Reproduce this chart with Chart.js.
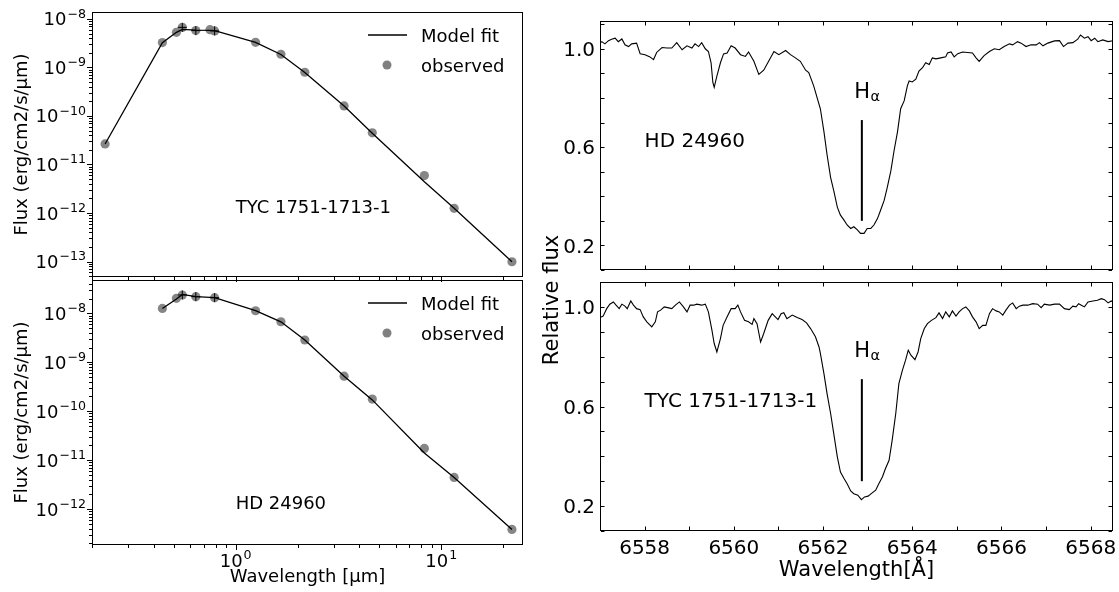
<!DOCTYPE html>
<html><head><meta charset="utf-8">
<script src="https://cdn.jsdelivr.net/npm/chart.js@4.4.1/dist/chart.umd.min.js"></script>
<style>
html,body{margin:0;padding:0;background:#fff;}
#wrap{position:relative;width:1119px;height:592px;overflow:hidden;background:#fff;}
canvas{position:absolute;left:0;top:0;}
</style></head><body>
<div id="wrap">
<canvas id="cTL" width="1119" height="592"></canvas>
<canvas id="cBL" width="1119" height="592"></canvas>
<canvas id="cTR" width="1119" height="592"></canvas>
<canvas id="cBR" width="1119" height="592"></canvas>
</div>
<script>
// ---------- SED data (wavelength in micron, flux in erg/cm2/s/micron) ----------
const sedWavelengthTyc = [0.2316, 0.44, 0.515, 0.55, 0.64, 0.75, 0.79, 1.25, 1.66, 2.17, 3.37, 4.62, 8.28, 11.56, 22.09];
const sedObservedTyc   = [2.65e-11, 3.25e-9, 5.3e-9, 6.7e-9, 5.75e-9, 6.0e-9, 5.66e-9, 3.3e-9, 1.87e-9, 7.96e-10, 1.61e-10, 4.5e-11, 5.9e-12, 1.25e-12, 9.9e-14];
const sedModelTyc      = [2.65e-11, 3.25e-9, 5.3e-9, 6.1e-9, 5.9e-9, 5.8e-9, 5.75e-9, 3.3e-9, 1.85e-9, 7.9e-10, 1.6e-10, 4.4e-11, 4.4e-12, 1.25e-12, 9.9e-14];
const errWavelengthTyc = [0.55, 0.64, 0.79];
const errFluxTyc       = [6.7e-9, 5.75e-9, 5.66e-9];

const sedWavelengthHd = [0.44, 0.515, 0.55, 0.64, 0.79, 1.25, 1.66, 2.17, 3.37, 4.62, 8.28, 11.56, 22.09];
const sedObservedHd   = [1.26e-8, 2.03e-8, 2.37e-8, 2.19e-8, 2.09e-8, 1.13e-8, 6.73e-9, 2.85e-9, 5.2e-10, 1.77e-10, 1.73e-11, 4.42e-12, 3.83e-13];
const sedModelHd      = [1.26e-8, 1.96e-8, 2.44e-8, 2.19e-8, 2.09e-8, 1.13e-8, 6.7e-9, 2.85e-9, 5.2e-10, 1.7e-10, 1.4e-11, 4.42e-12, 3.83e-13];
const errWavelengthHd = [0.55, 0.64, 0.79];
const errFluxHd       = [2.37e-8, 2.19e-8, 2.09e-8];

const sedXTickExponents    = [0, 1];
const sedYTickExponentsTyc = [-8, -9, -10, -11, -12, -13];
const sedYTickExponentsHd  = [-8, -9, -10, -11, -12];

// ---------- Spectra (wavelength in Angstrom, relative flux) ----------
const specWavelengthHd = [6557.00,6557.04,6557.11,6557.19,6557.26,6557.34,6557.41,6557.49,6557.56,6557.64,6557.71,6557.82,6557.90,6558.01,6558.12,6558.20,6558.27,6558.39,6558.50,6558.61,6558.72,6558.84,6558.95,6559.06,6559.13,6559.21,6559.28,6559.36,6559.43,6559.49,6559.53,6559.56,6559.62,6559.70,6559.77,6559.85,6559.94,6560.03,6560.15,6560.26,6560.33,6560.45,6560.56,6560.67,6560.78,6560.90,6561.01,6561.16,6561.27,6561.38,6561.49,6561.61,6561.68,6561.79,
6561.94,6562.02,6562.09,6562.17,6562.24,6562.32,6562.39,6562.47,6562.54,6562.62,6562.69,6562.77,6562.84,6562.92,6562.99,6563.07,6563.14,6563.22,6563.29,6563.37,6563.44,6563.52,6563.59,6563.67,6563.74,6563.82,6563.89,6563.93,6564.00,6564.08,6564.15,6564.23,6564.30,6564.38,6564.45,6564.53,6564.64,6564.75,6564.79,6564.87,6564.94,6565.02,6565.13,6565.24,6565.35,6565.43,6565.50,6565.61,6565.73,6565.84,6565.95,6566.06,6566.18,6566.25,6566.36,6566.44,6566.55,6566.66,6566.78,6566.85,6566.93,6567.04,6567.19,6567.30,6567.39,6567.49,6567.60,6567.71,6567.77,6567.86,6567.94,6568.01,6568.09,6568.16,6568.27,6568.39,6568.50];
const specFluxHd = [1.023,1.029,1.020,1.033,1.039,1.043,1.029,1.040,1.016,1.009,1.020,1.023,0.980,0.976,0.967,0.956,0.985,1.005,1.003,1.003,1.025,0.996,1.012,1.003,1.020,1.009,1.025,1.000,0.989,0.943,0.863,0.843,0.889,0.943,0.979,0.983,1.012,1.003,0.976,0.969,0.987,0.949,0.896,0.913,0.949,0.989,0.976,0.993,0.976,0.963,0.949,0.913,0.903,0.849,
0.756,0.663,0.569,0.476,0.423,0.356,0.323,0.303,0.283,0.269,0.276,0.263,0.249,0.249,0.269,0.269,0.283,0.309,0.343,0.383,0.436,0.503,0.583,0.663,0.756,0.789,0.849,0.869,0.865,0.876,0.909,0.923,0.943,0.936,0.963,0.959,0.963,0.967,0.983,0.987,0.967,0.980,0.987,0.985,0.983,0.963,0.949,0.972,0.989,1.000,0.996,1.009,1.020,1.016,1.029,1.023,1.009,1.016,1.016,1.025,1.012,1.023,1.032,1.033,1.009,1.023,1.025,1.039,1.056,1.043,1.049,1.033,1.043,1.029,1.036,1.029,1.033];

const specWavelengthTyc = [6557.00,6557.07,6557.15,6557.22,6557.30,6557.36,6557.43,6557.49,6557.56,6557.61,6557.69,6557.75,6557.82,6557.90,6557.97,6558.05,6558.16,6558.24,6558.29,6558.36,6558.44,6558.54,6558.61,6558.69,6558.78,6558.87,6558.95,6559.02,6559.10,6559.17,6559.28,6559.36,6559.43,6559.51,6559.56,6559.62,6559.70,6559.76,6559.85,6559.94,6560.03,6560.09,6560.15,6560.24,6560.33,6560.41,6560.45,6560.52,6560.60,6560.67,6560.77,6560.86,6560.93,6560.99,6561.06,6561.12,6561.19,6561.31,6561.42,6561.53,6561.63,6561.72,6561.83,6561.91,
6561.94,6562.02,6562.09,6562.17,6562.24,6562.32,6562.39,6562.47,6562.54,6562.62,6562.69,6562.78,6562.86,6562.93,6563.01,6563.08,6563.18,6563.25,6563.33,6563.40,6563.48,6563.55,6563.63,6563.70,6563.78,6563.85,6563.91,6563.97,6564.06,6564.13,6564.19,6564.27,6564.34,6564.43,6564.53,6564.60,6564.68,6564.75,6564.83,6564.90,6564.98,6565.05,6565.13,6565.20,6565.28,6565.35,6565.43,6565.50,6565.58,6565.65,6565.73,6565.80,6565.88,6565.95,6566.03,6566.10,6566.18,6566.25,6566.33,6566.40,6566.48,6566.59,6566.70,6566.81,6566.89,6566.96,6567.08,6567.19,6567.30,6567.41,6567.52,6567.60,6567.67,6567.73,6567.79,6567.86,6567.94,6568.05,6568.15,6568.24,6568.31,6568.39,6568.46,6568.54];
const specFluxTyc = [0.957,0.963,0.993,1.011,1.020,1.007,0.993,1.011,1.003,0.993,1.024,1.007,0.993,0.989,0.960,0.940,0.920,0.940,0.980,0.987,1.000,0.996,0.993,1.007,1.020,1.000,0.980,1.007,1.007,1.011,1.007,1.011,0.980,0.906,0.853,0.819,0.873,0.926,0.960,0.993,0.993,1.007,0.980,0.946,0.940,0.930,0.953,0.933,0.859,0.893,0.946,0.973,0.960,0.949,0.973,0.977,0.953,0.967,0.957,0.949,0.936,0.913,0.880,0.839,
0.813,0.732,0.652,0.572,0.491,0.398,0.337,0.311,0.290,0.261,0.250,0.244,0.226,0.237,0.240,0.250,0.264,0.290,0.317,0.351,0.384,0.465,0.572,0.692,0.746,0.786,0.826,0.806,0.788,0.819,0.873,0.913,0.933,0.946,0.957,0.976,0.953,0.980,0.960,0.984,0.963,0.980,0.993,1.000,0.984,0.960,0.940,0.913,0.926,0.926,0.973,0.993,0.984,0.980,0.967,0.987,1.007,1.016,0.993,1.003,1.007,1.007,1.013,1.011,0.997,1.011,1.007,1.011,1.011,0.993,0.989,1.003,1.000,1.013,1.007,1.000,1.020,1.024,1.027,1.033,1.029,1.016,1.024,1.013];

const halphaWavelength = [6562.87, 6562.87];
const halphaFlux       = [0.30, 0.71];

const specXTicks      = [6557,6558,6559,6560,6561,6562,6563,6564,6565,6566,6567,6568];
const specXTickLabels = [6558, 6560, 6562, 6564, 6566, 6568];
const specYTicks      = [0.1,0.2,0.3,0.4,0.5,0.6,0.7,0.8,0.9,1.0,1.1];
const specYTickLabels = [0.2, 0.6, 1.0];

// ---------- helpers ----------
const FONT = '"DejaVu Sans", sans-serif';
const W = 1119, H = 592;
function pts(xs, ys) { return xs.map((x, i) => ({x: x, y: ys[i]})); }
function line(ctx, x1, y1, x2, y2) { ctx.beginPath(); ctx.moveTo(x1, y1); ctx.lineTo(x2, y2); ctx.stroke(); }
function pow10(ctx, exp, x, yBase, align, size) {
  const sup = (exp < 0 ? '\u2212' : '') + Math.abs(exp);
  const ss = size * 0.7;
  ctx.font = size + 'px ' + FONT; const wb = ctx.measureText('10').width;
  ctx.font = ss + 'px ' + FONT; const ws = ctx.measureText(sup).width;
  const tot = wb + ws + 1;
  const x0 = align === 'right' ? x - tot : (align === 'center' ? x - tot / 2 : x);
  ctx.textAlign = 'left'; ctx.textBaseline = 'alphabetic';
  ctx.font = size + 'px ' + FONT; ctx.fillText('10', x0, yBase);
  ctx.font = ss + 'px ' + FONT; ctx.fillText(sup, x0 + wb + 1, yBase - size * 0.42);
}
function logTickList(min, max) {
  const out = [];
  for (let e = Math.floor(Math.log10(min)); e <= Math.ceil(Math.log10(max)); e++) {
    for (let m = 1; m <= 9; m++) {
      const v = m * Math.pow(10, e);
      if (v >= min && v <= max) out.push({v: v, major: m === 1});
    }
  }
  return out;
}
function frame(ctx, a) {
  ctx.strokeStyle = '#000'; ctx.lineWidth = 1;
  ctx.strokeRect(a.left + 0.5, a.top + 0.5, a.right - a.left - 1, a.bottom - a.top - 1);
}

// ---------- SED panel ----------
function makeSed(id, area, wl, obs, model, ewl, eflux, yMin, yMax, cfg) {
  const decor = {
    id: 'decor' + id,
    afterDatasetsDraw(chart) {
      const ctx = chart.ctx, a = chart.chartArea, xs = chart.scales.x, ys = chart.scales.y;
      ctx.save();
      frame(ctx, a);
      ctx.lineWidth = 1; ctx.strokeStyle = '#000'; ctx.fillStyle = '#000';
      logTickList(xs.min, xs.max).forEach(t => {
        const px = Math.round(xs.getPixelForValue(t.v)) + 0.5;
        line(ctx, px, a.bottom, px, a.bottom + (t.major ? 5 : 3));
      });
      logTickList(ys.min, ys.max).forEach(t => {
        const py = Math.round(ys.getPixelForValue(t.v)) + 0.5;
        line(ctx, a.left, py, a.left - (t.major ? 5 : 3), py);
      });
      cfg.yExp.forEach(e => pow10(ctx, e, a.left - 6, ys.getPixelForValue(Math.pow(10, e)) + 6.5, 'right', 18));
      if (cfg.xLabels) {
        sedXTickExponents.forEach(e => pow10(ctx, e, xs.getPixelForValue(Math.pow(10, e)), a.bottom + 22, 'center', 18));
        ctx.font = '18px ' + FONT; ctx.textAlign = 'center'; ctx.textBaseline = 'alphabetic';
        ctx.fillText('Wavelength [\u03bcm]', (a.left + a.right) / 2, 582);
      }
      // y title
      ctx.save();
      ctx.translate(22, (a.top + a.bottom) / 2); ctx.rotate(-Math.PI / 2);
      ctx.font = '18px ' + FONT; ctx.textAlign = 'center'; ctx.textBaseline = 'middle';
      ctx.fillText('Flux (erg/cm2/s/\u03bcm)', 0, 0);
      ctx.restore();
      // annotation
      ctx.font = '18px ' + FONT; ctx.textAlign = 'left'; ctx.textBaseline = 'alphabetic';
      ctx.fillText(cfg.name, xs.getPixelForValue(1.0), ys.getPixelForValue(1e-12));
      // legend
      const ly = a.top + cfg.legendDy;
      ctx.strokeStyle = '#000'; ctx.lineWidth = 1.3;
      line(ctx, 368, ly, 407, ly);
      ctx.fillStyle = '#808080';
      ctx.beginPath(); ctx.arc(387, ly + 30, 4.5, 0, Math.PI * 2); ctx.fill();
      ctx.fillStyle = '#000'; ctx.font = '18px ' + FONT;
      ctx.fillText('Model fit', 421, ly + 6.5);
      ctx.fillText('observed', 421, ly + 36.5);
      ctx.restore();
    }
  };
  return new Chart(document.getElementById(id), {
    type: 'scatter',
    data: { datasets: [
      { label: 'err', data: pts(ewl, eflux), pointStyle: 'cross', pointRadius: 4.5, borderColor: '#000', borderWidth: 1, backgroundColor: '#000' },
      { label: 'Model fit', data: pts(wl, model), showLine: true, borderColor: '#000', borderWidth: 1.3, pointRadius: 0, tension: 0, fill: false },
      { label: 'observed', data: pts(wl, obs), pointRadius: 4.6, pointBackgroundColor: 'rgba(128,128,128,0.95)', pointBorderWidth: 0, borderColor: 'rgba(0,0,0,0)' }
    ]},
    options: {
      responsive: false, animation: false, devicePixelRatio: 1, events: [],
      layout: { padding: { left: area.left, top: area.top, right: W - area.right, bottom: H - area.bottom } },
      plugins: { legend: { display: false }, tooltip: { enabled: false } },
      scales: {
        x: { type: 'logarithmic', min: 0.2, max: 25, display: false, bounds: 'data' },
        y: { type: 'logarithmic', min: yMin, max: yMax, display: false, bounds: 'data' }
      }
    },
    plugins: [decor]
  });
}

// ---------- Spectrum panel ----------
function makeSpec(id, area, wl, flux, yMax, cfg) {
  const decor = {
    id: 'decor' + id,
    afterDatasetsDraw(chart) {
      const ctx = chart.ctx, a = chart.chartArea, xs = chart.scales.x, ys = chart.scales.y;
      ctx.save();
      frame(ctx, a);
      ctx.lineWidth = 1; ctx.strokeStyle = '#000'; ctx.fillStyle = '#000';
      specXTicks.forEach(v => {
        const px = Math.round(xs.getPixelForValue(v)) + 0.5;
        line(ctx, px, a.bottom - 1, px, a.bottom - 4.5);
        line(ctx, px, a.top + 1, px, a.top + 4.5);
      });
      specYTicks.forEach(v => {
        const py = Math.round(ys.getPixelForValue(v)) + 0.5;
        line(ctx, a.left + 1, py, a.left + 4.5, py);
        line(ctx, a.right - 1, py, a.right - 4.5, py);
      });
      ctx.font = '20px ' + FONT; ctx.textAlign = 'right'; ctx.textBaseline = 'alphabetic';
      specYTickLabels.forEach(v => ctx.fillText(v.toFixed(1), a.left - 5, ys.getPixelForValue(v) + 7.3));
      if (cfg.xLabels) {
        ctx.textAlign = 'center';
        specXTickLabels.forEach(v => ctx.fillText(String(v), xs.getPixelForValue(v), a.bottom + 22.5));
        ctx.font = '21px ' + FONT;
        ctx.fillText('Wavelength[\u00c5]', (a.left + a.right) / 2, 576);
        ctx.save();
        ctx.translate(553, 300); ctx.rotate(-Math.PI / 2);
        ctx.textBaseline = 'middle';
        ctx.fillText('Relative flux', 0, 0);
        ctx.restore();
      }
      ctx.font = '20px ' + FONT; ctx.textAlign = 'left'; ctx.textBaseline = 'alphabetic';
      ctx.fillText(cfg.name, xs.getPixelForValue(6558), ys.getPixelForValue(0.6));
      // H alpha label
      const hx = xs.getPixelForValue(6562.7), hy = ys.getPixelForValue(0.8);
      ctx.font = '21px ' + FONT; ctx.fillText('H', hx, hy);
      const hw = ctx.measureText('H').width;
      ctx.font = '14.5px ' + FONT; ctx.fillText('\u03b1', hx + hw + 0.5, hy + 3.5);
      ctx.restore();
    }
  };
  return new Chart(document.getElementById(id), {
    type: 'scatter',
    data: { datasets: [
      { label: 'Halpha', data: pts(halphaWavelength, halphaFlux), showLine: true, borderColor: '#000', borderWidth: 2, pointRadius: 0 },
      { label: cfg.name, data: pts(wl, flux), showLine: true, borderColor: '#000', borderWidth: 1.1, pointRadius: 0, tension: 0, fill: false }
    ]},
    options: {
      responsive: false, animation: false, devicePixelRatio: 1, events: [],
      layout: { padding: { left: area.left, top: area.top, right: W - area.right, bottom: H - area.bottom } },
      plugins: { legend: { display: false }, tooltip: { enabled: false } },
      scales: {
        x: { type: 'linear', min: 6557, max: 6568.5, display: false, bounds: 'data' },
        y: { type: 'linear', min: 0.1, max: yMax, display: false, bounds: 'data' }
      }
    },
    plugins: [decor]
  });
}

makeSed('cTL', {left: 92, top: 12, right: 523, bottom: 277}, sedWavelengthTyc, sedObservedTyc, sedModelTyc, errWavelengthTyc, errFluxTyc, 4.8e-14, 1.39e-8,
  { yExp: sedYTickExponentsTyc, xLabels: false, name: 'TYC 1751-1713-1', legendDy: 23 });
makeSed('cBL', {left: 92, top: 280, right: 523, bottom: 545}, sedWavelengthHd, sedObservedHd, sedModelHd, errWavelengthHd, errFluxHd, 1.84e-13, 4.8e-8,
  { yExp: sedYTickExponentsHd, xLabels: true, name: 'HD 24960', legendDy: 23 });
makeSpec('cTR', {left: 600, top: 21, right: 1113, bottom: 270}, specWavelengthHd, specFluxHd, 1.113, { name: 'HD 24960', xLabels: false });
makeSpec('cBR', {left: 600, top: 282, right: 1113, bottom: 531}, specWavelengthTyc, specFluxTyc, 1.1, { name: 'TYC 1751-1713-1', xLabels: true });
</script>
</body></html>
